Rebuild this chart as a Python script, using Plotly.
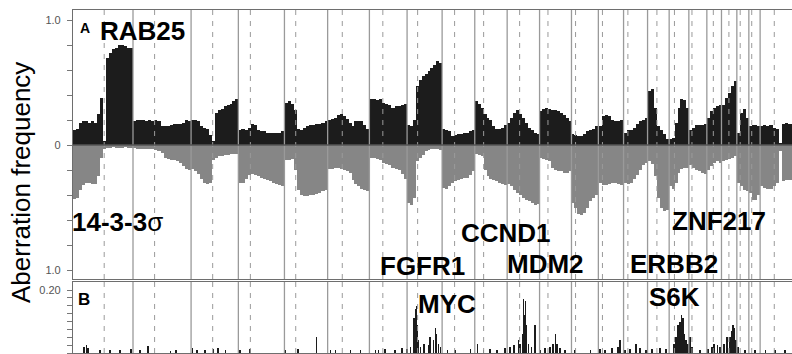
import plotly.graph_objects as go

# ---------------- data ----------------
chrom_labels = [str(i) for i in range(1, 23)] + ["X"]
chrom_len_mb = [250, 242, 197, 192, 180, 174, 157, 146, 136, 135, 135, 133,
                112, 105, 100, 90, 82, 75, 61, 64, 50, 47, 155]
centromere_mb = [130, 90, 90, 50, 47, 61, 56, 44, 52, 37, 52, 35,
                 17, 17, 18, 39, 22, 13, 27, 31, 14, 12, 59]
bins_per_chrom = [20, 19, 16, 15, 14, 14, 12, 12, 11, 11, 11, 11,
                  9, 8, 8, 7, 7, 6, 5, 5, 4, 4, 12]

# gain frequency (panel A, upward, black), bins in genome order
gain_freq = [
    0.12, 0.13, 0.18, 0.19, 0.19, 0.18, 0.19, 0.18, 0.25, 0.38, 0.03, 0.70, 0.74, 0.77, 0.78, 0.80, 0.80, 0.79, 0.78, 0.78,
    0.19, 0.20, 0.20, 0.20, 0.19, 0.20, 0.19, 0.20, 0.19, 0.15, 0.15, 0.15, 0.16, 0.17, 0.17, 0.17, 0.18, 0.20, 0.19,
    0.20, 0.20, 0.19, 0.15, 0.14, 0.13, 0.08, 0.03, 0.26, 0.28, 0.29, 0.31, 0.32, 0.33, 0.35, 0.37,
    0.12, 0.13, 0.12, 0.14, 0.17, 0.16, 0.12, 0.11, 0.11, 0.10, 0.10, 0.10, 0.10, 0.10, 0.11,
    0.34, 0.35, 0.33, 0.28, 0.13, 0.12, 0.14, 0.15, 0.16, 0.16, 0.17, 0.17, 0.18, 0.19,
    0.20, 0.21, 0.22, 0.24, 0.25, 0.23, 0.21, 0.18, 0.15, 0.19, 0.19, 0.19, 0.16, 0.13,
    0.37, 0.37, 0.36, 0.37, 0.34, 0.33, 0.32, 0.30, 0.31, 0.31, 0.32, 0.33,
    0.16, 0.15, 0.20, 0.47, 0.52, 0.55, 0.57, 0.59, 0.62, 0.64, 0.67, 0.66,
    0.13, 0.12, 0.11, 0.07, 0.08, 0.09, 0.09, 0.10, 0.10, 0.11, 0.12,
    0.35, 0.33, 0.30, 0.25, 0.22, 0.20, 0.15, 0.13, 0.13, 0.14, 0.16,
    0.18, 0.22, 0.26, 0.28, 0.25, 0.22, 0.18, 0.14, 0.12, 0.10, 0.09,
    0.27, 0.29, 0.30, 0.29, 0.28, 0.28, 0.27, 0.26, 0.24, 0.22, 0.19,
    0.09, 0.08, 0.07, 0.07, 0.09, 0.11, 0.12, 0.13, 0.15,
    0.15, 0.23, 0.24, 0.23, 0.20, 0.19, 0.19, 0.20,
    0.10, 0.12, 0.12, 0.14, 0.17, 0.19, 0.20, 0.22,
    0.43, 0.45, 0.30, 0.15, 0.12, 0.09, 0.05,
    0.05, 0.06, 0.18, 0.30, 0.37, 0.36, 0.30,
    0.12, 0.14, 0.16, 0.16, 0.16, 0.17,
    0.22, 0.27, 0.30, 0.31, 0.32,
    0.32, 0.38, 0.42, 0.47, 0.51,
    0.10, 0.26, 0.29, 0.22,
    0.15, 0.16, 0.16, 0.15,
    0.15, 0.16, 0.15, 0.16, 0.14, 0.13, 0.02, 0.17, 0.18, 0.17, 0.17, 0.16,
]

# loss frequency (panel A, downward, gray)
loss_freq = [
    0.43, 0.42, 0.36, 0.32, 0.30, 0.30, 0.31, 0.31, 0.25, 0.10, 0.03, 0.02, 0.02, 0.01, 0.02, 0.02, 0.02, 0.01, 0.02, 0.02,
    0.02, 0.03, 0.03, 0.03, 0.03, 0.03, 0.03, 0.04, 0.05, 0.06, 0.10, 0.11, 0.12, 0.12, 0.13, 0.14, 0.17, 0.19, 0.20,
    0.19, 0.21, 0.23, 0.27, 0.30, 0.31, 0.30, 0.12, 0.10, 0.09, 0.09, 0.08, 0.08, 0.07, 0.07, 0.07,
    0.30, 0.30, 0.27, 0.24, 0.23, 0.24, 0.25, 0.26, 0.27, 0.28, 0.29, 0.30, 0.31, 0.32, 0.33,
    0.12, 0.12, 0.11, 0.20, 0.36, 0.40, 0.41, 0.41, 0.40, 0.40, 0.39, 0.38, 0.37, 0.36,
    0.19, 0.19, 0.18, 0.18, 0.19, 0.20, 0.21, 0.22, 0.28, 0.31, 0.33, 0.35, 0.36, 0.37,
    0.10, 0.10, 0.11, 0.12, 0.14, 0.15, 0.16, 0.18, 0.19, 0.20, 0.23, 0.27,
    0.46, 0.48, 0.42, 0.13, 0.10, 0.08, 0.05, 0.04, 0.03, 0.03, 0.03, 0.04,
    0.34, 0.35, 0.33, 0.30, 0.29, 0.28, 0.27, 0.26, 0.26, 0.24, 0.21,
    0.07, 0.08, 0.09, 0.20, 0.25, 0.27, 0.28, 0.29, 0.30, 0.31, 0.32,
    0.31, 0.33, 0.36, 0.38, 0.40, 0.42, 0.44, 0.45, 0.46, 0.48, 0.47,
    0.10, 0.11, 0.12, 0.13, 0.18, 0.20, 0.21, 0.21, 0.22, 0.22, 0.21,
    0.46, 0.50, 0.55, 0.56, 0.54, 0.50, 0.45, 0.42, 0.40,
    0.30, 0.32, 0.32, 0.31, 0.30, 0.30, 0.31, 0.32,
    0.30, 0.31, 0.30, 0.27, 0.24, 0.20, 0.16, 0.14,
    0.13, 0.15, 0.25, 0.42, 0.50, 0.53, 0.52,
    0.33, 0.35, 0.30, 0.22, 0.19, 0.18, 0.18,
    0.16, 0.18, 0.20, 0.21, 0.22, 0.23,
    0.20, 0.17, 0.14, 0.13, 0.14,
    0.13, 0.12, 0.11, 0.10, 0.09,
    0.30, 0.33, 0.36, 0.37,
    0.38, 0.44, 0.44, 0.40,
    0.33, 0.34, 0.35, 0.35, 0.33, 0.30, 0.05, 0.29, 0.28, 0.28, 0.28, 0.28,
]

# panel B: amplification frequency (genome position in Mb)
amp_pos_mb = [47, 56, 64, 114, 155, 197, 243, 280, 314, 406, 430, 498, 518, 551, 585, 605, 635, 697, 739,
              885, 939, 1015, 1073, 1094, 1156, 1198, 1260, 1273, 1301, 1343, 1372, 1393, 1406,
              1422, 1427, 1431, 1435, 1439, 1448, 1464, 1481, 1489, 1502, 1510, 1514, 1523, 1531,
              1560, 1593, 1656, 1685, 1710, 1739, 1768, 1801, 1822, 1839, 1856, 1864, 1873, 1877, 1881,
              1885, 1889, 1898, 1910, 1925, 1947, 1968, 1989, 2001, 2010, 2018, 2030, 2051, 2093, 2156,
              2197, 2218, 2247, 2272, 2280, 2301, 2322, 2347, 2364, 2389, 2414, 2447, 2472,
              2505, 2514, 2522, 2526, 2530, 2535, 2539, 2543, 2547, 2555, 2564, 2572, 2580,
              2614, 2647, 2664, 2672, 2685, 2697, 2714, 2726, 2739, 2747, 2751, 2755, 2764, 2772,
              2801, 2843, 2885, 2926, 2968]
amp_freq = [0.020, 0.025, 0.015, 0.010, 0.008, 0.010, 0.012, 0.010, 0.022, 0.005, 0.008, 0.015, 0.010, 0.008, 0.012, 0.015, 0.010, 0.010, 0.012,
            0.010, 0.012, 0.050, 0.008, 0.010, 0.010, 0.010, 0.008, 0.010, 0.012, 0.010, 0.015, 0.012, 0.020,
            0.110, 0.140, 0.150, 0.090, 0.040, 0.020, 0.030, 0.025, 0.050, 0.040, 0.080, 0.060, 0.030, 0.020,
            0.010, 0.008, 0.012, 0.030, 0.010, 0.012, 0.010, 0.015, 0.020, 0.025, 0.040, 0.030, 0.060, 0.170, 0.120,
            0.165, 0.090, 0.030, 0.020, 0.090, 0.010, 0.015, 0.020, 0.030, 0.060, 0.030, 0.015, 0.010, 0.008, 0.010,
            0.012, 0.010, 0.015, 0.020, 0.040, 0.010, 0.012, 0.030, 0.015, 0.010, 0.012, 0.015, 0.012,
            0.030, 0.050, 0.090, 0.070, 0.100, 0.120, 0.090, 0.110, 0.060, 0.040, 0.030, 0.050, 0.020,
            0.010, 0.012, 0.020, 0.030, 0.025, 0.020, 0.030, 0.050, 0.050, 0.070, 0.090, 0.080, 0.040, 0.020,
            0.010, 0.008, 0.010, 0.008, 0.010]

gene_labels_A = ["RAB25", "14-3-3σ", "FGFR1", "CCND1", "MDM2", "ERBB2", "ZNF217"]
gene_labels_B = ["MYC", "S6K"]
panel_letters = ["A", "B"]
y_title = "Aberration frequency"

# ---------------- layout geometry ----------------
W, H = 792, 354
def px(x):
    return x / W
def py(y):
    return 1 - y / H

x_left = 73
XMAX = (W - x_left) / 0.24  # genome Mb shown

# bin centres / widths
starts = []
s = 0
for L in chrom_len_mb:
    starts.append(s)
    s += L
xc, wd = [], []
for st, L, n in zip(starts, chrom_len_mb, bins_per_chrom):
    w = L / n
    for k in range(n):
        xc.append(st + (k + 0.5) * w)
        wd.append(w)

fig = go.Figure()
fig.add_trace(go.Bar(x=xc, y=gain_freq, width=wd, marker=dict(color="#1c1c1c", line=dict(width=0)),
                     xaxis="x", yaxis="y", showlegend=False))
fig.add_trace(go.Bar(x=xc, y=[-v for v in loss_freq], width=wd, marker=dict(color="#868686", line=dict(width=0)),
                     xaxis="x", yaxis="y", showlegend=False))
fig.add_trace(go.Bar(x=amp_pos_mb, y=amp_freq, width=3.2, marker=dict(color="#1c1c1c", line=dict(width=0)),
                     xaxis="x2", yaxis="y2", showlegend=False))

shapes = []
for xr, yr in (("x", "y domain"), ("x2", "y2 domain")):
    for st, L, c in zip(starts, chrom_len_mb, centromere_mb):
        if st > 0:
            shapes.append(dict(type="line", xref=xr, yref=yr, x0=st, x1=st, y0=0, y1=1,
                               line=dict(color="#9a9a9a", width=1.3), layer="above"))
        shapes.append(dict(type="line", xref=xr, yref=yr, x0=st + c, x1=st + c, y0=0, y1=1,
                           line=dict(color="#9a9a9a", width=1, dash="5px,6px"), layer="above"))
shapes.append(dict(type="line", xref="x domain", yref="y", x0=0, x1=1, y0=0, y1=0,
                   line=dict(color="#555555", width=1.3), layer="above"))

a_ticks = [round(-1 + 0.2 * i, 1) for i in range(11)]
a_text = ["1.0" if abs(v) == 1 else ("0" if v == 0 else "") for v in a_ticks]
b_ticks = [round(0.025 * i, 3) for i in range(9)]
b_text = ["0"] + [""] * 7 + ["0.20"]

axis_common = dict(showgrid=False, zeroline=False, showline=True, linecolor="#6e6e6e", linewidth=1.2)
tick_font = dict(family="Arial, Liberation Sans", size=11, color="#555")
fig.update_layout(
    width=W, height=H, margin=dict(l=0, r=0, t=0, b=0),
    paper_bgcolor="white", plot_bgcolor="white", barmode="overlay", bargap=0,
    xaxis=dict(domain=[px(x_left), 1], range=[0, XMAX], anchor="y", mirror=True,
               showticklabels=False, ticks="", **axis_common),
    yaxis=dict(domain=[py(279), py(10)], range=[-1.072, 1.08], anchor="x",
               tickvals=a_ticks, ticktext=a_text, ticks="outside", ticklen=5, tickcolor="#777",
               ticklabelstandoff=4, tickfont=tick_font, **axis_common),
    xaxis2=dict(domain=[px(x_left), 1], range=[0, XMAX], anchor="y2", mirror=True,
                showticklabels=False, ticks="", **axis_common),
    yaxis2=dict(domain=[py(353), py(282)], range=[0, 0.2254], anchor="x2",
                tickvals=b_ticks, ticktext=b_text, ticks="outside", ticklen=5, tickcolor="#777",
                ticklabelstandoff=4, tickfont=tick_font, **axis_common),
    shapes=shapes,
)

gene_font = dict(family="Arial, Liberation Sans", size=26, color="black")
pos_A = [(142, 31), (117, 222), (422, 266), (506, 233), (545, 264), (674, 264), (719, 221)]
pos_B = [(447, 304), (674, 297)]
ann = []
for lab, (x, y) in zip(gene_labels_A + gene_labels_B, pos_A + pos_B):
    if lab.endswith("σ"):
        txt = "<b>" + lab[:-1] + "</b>" + lab[-1]
    else:
        txt = "<b>" + lab + "</b>"
    ann.append(dict(text=txt, x=px(x), y=py(y), xref="paper", yref="paper",
                    xanchor="center", yanchor="middle", showarrow=False, font=gene_font))
for lab, (x, y), sz in zip(panel_letters, [(85, 28), (84, 299)], [14, 17]):
    ann.append(dict(text="<b>" + lab + "</b>", x=px(x), y=py(y), xref="paper", yref="paper",
                    xanchor="center", yanchor="middle", showarrow=False,
                    font=dict(family="Arial, Liberation Sans", size=sz, color="black")))
ann.append(dict(text=y_title, x=px(21), y=py(183), xref="paper", yref="paper", textangle=-90,
                xanchor="center", yanchor="middle", showarrow=False,
                font=dict(family="Arial, Liberation Sans", size=26, color="black")))
fig.update_layout(annotations=ann)

fig.write_html("out.html")
